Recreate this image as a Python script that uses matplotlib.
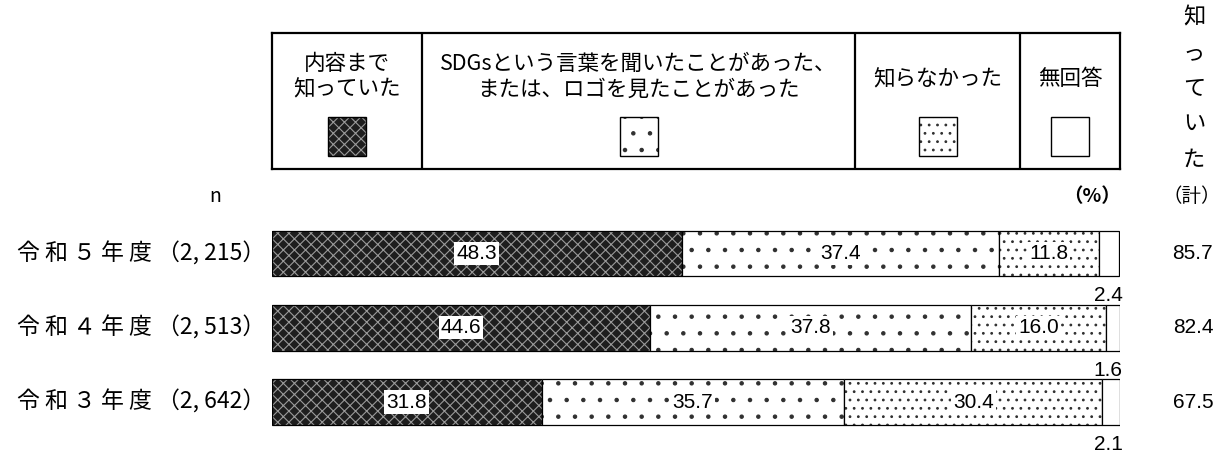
import matplotlib
matplotlib.use("Agg")
import matplotlib.pyplot as plt
from matplotlib import font_manager
from matplotlib.patches import Rectangle

# データ
categories = ["令 和 ５ 年 度", "令 和 ４ 年 度", "令 和 ３ 年 度"]
n_labels = ["2, 215", "2, 513", "2, 642"]
known_content = [48.3, 44.6, 31.8]
heard_or_seen = [37.4, 37.8, 35.7]
not_known = [11.8, 16.0, 30.4]
no_answer = [2.4, 1.6, 2.1]
known_total = [85.7, 82.4, 67.5]
series_names = ["内容まで\n知っていた",
                "SDGsという言葉を聞いたことがあった、\nまたは、ロゴを見たことがあった",
                "知らなかった", "無回答"]

plt.rcParams["font.family"] = ["Noto Sans CJK JP", "DejaVu Sans"]
plt.rcParams["hatch.linewidth"] = 0.8

names = {f.name for f in font_manager.fontManager.ttflist}
num_font = "Liberation Sans Narrow" if "Liberation Sans Narrow" in names else "Liberation Sans"

W, H = 1225, 454
fig = plt.figure(figsize=(W / 100, H / 100), dpi=100)


def fx(x):
    return x / W


def fy(y):
    return 1 - y / H


# 系列ごとの塗り（面色, ハッチ, ハッチ色）
styles = [
    ("#1e1e1e", "xxx", "#9a9a9a"),
    ("white", ".", "#303030"),
    ("white", "..", "#303030"),
    ("white", "", "black"),
]

# 帯グラフ
ax = fig.add_axes([fx(272), fy(454), fx(1120 - 272), (454 - 205) / H])
ax.set_xlim(0, 100)
ax.set_ylim(2.70, -0.653)
ax.axis("off")

rows = list(range(len(categories)))
bar_h = 0.613
series = [known_content, heard_or_seen, not_known, no_answer]
left = [0.0] * len(rows)
for k, vals in enumerate(series):
    face, hatch, hcol = styles[k]
    ax.barh(rows, vals, left=left, height=bar_h, color=face, hatch=hatch,
            edgecolor=hcol, linewidth=0)
    ax.barh(rows, vals, left=left, height=bar_h, fill=False,
            edgecolor="black", linewidth=0.9)
    if k < 3:
        for i, v in enumerate(vals):
            ax.text(left[i] + v / 2, i, f"{v:.1f}", ha="center", va="center",
                    fontsize=15, family=num_font,
                    bbox=dict(facecolor="white", edgecolor="none", pad=1.5))
    else:
        for i, v in enumerate(vals):
            ax.text(100.3, i + 0.57, f"{v:.1f}", ha="right", va="center",
                    fontsize=15, family=num_font, clip_on=False)
    left = [l + v for l, v in zip(left, vals)]

for i, (cat, n) in enumerate(zip(categories, n_labels)):
    ax.text(-0.8, i, f"{cat} （{n}）", ha="right", va="center", fontsize=16.5,
            clip_on=False)
for i, t in enumerate(known_total):
    ax.text(108.6, i, f"{t:.1f}", ha="center", va="center", fontsize=15,
            family=num_font, clip_on=False)

# 凡例ボックス
lg = fig.add_axes([fx(272), fy(169), fx(1120 - 272), (169 - 33) / H])
lg.set_xlim(272, 1120)
lg.set_ylim(169, 33)
lg.set_xticks([])
lg.set_yticks([])
for s in lg.spines.values():
    s.set_linewidth(1.6)
dividers = [422, 855, 1020]
for d in dividers:
    lg.axvline(d, color="black", linewidth=1.6)
bounds = [272] + dividers + [1120]
for k, name in enumerate(series_names):
    cx = (bounds[k] + bounds[k + 1]) / 2
    ty = 77 if "\n" in name else 79
    lg.text(cx, ty, name, ha="center", va="center", fontsize=15.5,
            linespacing=1.2)
    face, hatch, hcol = styles[k]
    lg.add_patch(Rectangle((cx - 19, 117), 38, 39, facecolor=face,
                           hatch=hatch, edgecolor=hcol, linewidth=0))
    lg.add_patch(Rectangle((cx - 19, 117), 38, 39, fill=False,
                           edgecolor="black", linewidth=1.0))

# 見出し類
fig.text(fx(215), fy(197), "n", ha="center", va="center", fontsize=14)
fig.text(fx(1092), fy(197), "（%）", ha="center", va="center", fontsize=14,
         fontweight="bold")
fig.text(fx(1192), fy(197), "（計）", ha="center", va="center", fontsize=14)
for i, ch in enumerate("知っていた"):
    fig.text(fx(1194), fy(17 + i * 35.5), ch, ha="center", va="center",
             fontsize=16)

fig.savefig("out.png", dpi=100)
